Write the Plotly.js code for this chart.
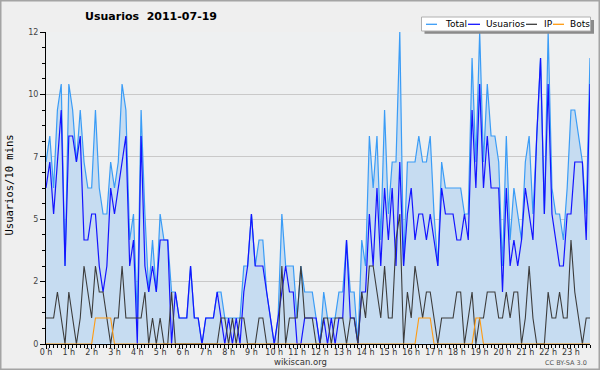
<!DOCTYPE html>
<html><head><meta charset="utf-8">
<script src="https://cdn.plot.ly/plotly-3.0.1.min.js"></script>
<style>html,body{margin:0;padding:0;background:#efefef;}#chart{width:600px;height:370px;}</style>
</head><body><div id="chart"></div>
<script>
// 10-minute slots, 0h00 .. 23h50
const hourTicks  = [0,6,12,18,24,30,36,42,48,54,60,66,72,78,84,90,96,102,108,114,120,126,132,138];
const hourLabels = ["0 h","1 h","2 h","3 h","4 h","5 h","6 h","7 h","8 h","9 h","10 h","11 h","12 h","13 h","14 h","15 h","16 h","17 h","18 h","19 h","20 h","21 h","22 h","23 h"];
const yTickVals  = [0, 2.4, 4.8, 7.2, 9.6, 12];
const yTickText  = ["0","2","5","7","10","12"];
const seriesNames = ["Total","Usuarios","IP","Bots"];

const total = [7,8,6,9,10,3,10,9,7,9,7,6,6,9,6,5,5,7,6,7,10,9,4,5,
  1,9,5,2,4,2,5,4,4,2,2,1,1,1,3,1,1,0,1,1,1,2,2,1,
  1,1,1,1,3,3,5,3,4,4,2,1,0,1,5,3,3,3,1,3,2,2,2,1,
  0,2,1,1,1,2,2,4,2,2,0,4,3,8,6,8,4,9,5,7,7,12,3,7,
  7,7,8,7,7,8,5,3,7,6,6,6,6,6,5,5,11,7,12,7,10,8,8,7,
  3,8,4,6,5,4,7,8,5,8,11,5,12,6,5,5,4,6,9,9,8,7,5,11];
const usuarios = [6,7,5,7,9,3,8,8,7,8,4,4,5,5,3,2,3,6,5,6,7,8,3,4,
  0,8,3,2,3,2,4,4,4,0,2,1,1,1,3,1,1,0,1,1,1,2,1,0,
  1,0,1,0,2,3,5,3,3,3,2,1,0,1,2,3,2,2,0,0,1,1,1,1,
  0,1,0,1,0,1,1,4,1,1,0,2,2,5,3,6,3,6,4,6,3,7,3,5,
  6,4,5,5,4,5,4,3,6,5,5,5,4,4,5,4,9,6,10,6,8,6,6,6,
  2,6,3,4,3,4,6,5,4,8,11,5,10,5,4,3,3,5,5,7,7,7,4,10];
const ip = [1,1,1,2,1,0,2,1,0,1,3,2,1,3,2,2,1,0,1,1,3,1,1,1,
  1,1,2,0,1,0,1,0,0,2,0,0,0,0,0,0,0,0,0,0,0,0,1,1,
  0,1,0,1,1,0,0,0,1,1,0,0,0,0,3,0,1,1,1,3,1,1,1,0,
  0,1,1,0,1,1,1,0,1,1,0,2,1,3,3,2,1,3,1,1,4,5,0,2,
  1,3,2,1,2,2,1,0,1,1,1,1,2,2,0,1,2,0,1,1,2,2,2,1,
  1,2,1,2,2,0,1,3,1,0,0,0,2,1,1,2,1,1,4,2,1,0,1,1];
const bots = [0,0,0,0,0,0,0,0,0,0,0,0,0,1,1,1,1,1,0,0,0,0,0,0,
  0,0,0,0,0,0,0,0,0,0,0,0,0,0,0,0,0,0,0,0,0,0,0,0,
  0,0,0,0,0,0,0,0,0,0,0,0,0,0,0,0,0,0,0,0,0,0,0,0,
  0,0,0,0,0,0,0,0,0,0,0,0,0,0,0,0,0,0,0,0,0,0,0,0,
  0,0,1,1,1,1,0,0,0,0,0,0,0,0,0,0,0,1,1,0,0,0,0,0,
  0,0,0,0,0,0,0,0,0,0,0,0,0,0,0,0,0,0,0,0,0,0,0,0];
const colors = ["#3a9cf6","#1414ff","#3c3c3c","#ff9a10"];

const slots = total.map((_, i) => i);

// helpers: pixel -> paper (plot area 46..590 x 32..344)
const PX = x => (x - 46) / 544;
const PY = y => (344 - y) / 312;

const traces = [
  {x: slots, y: total, name: seriesNames[0], type: 'scatter', mode: 'lines',
   line: {color: colors[0], width: 1.2}, fill: 'tozeroy', fillcolor: '#c6dcf1'},
  {x: slots, y: usuarios, name: seriesNames[1], type: 'scatter', mode: 'lines',
   line: {color: colors[1], width: 1.2}},
  {x: slots, y: ip, name: seriesNames[2], type: 'scatter', mode: 'lines',
   line: {color: colors[2], width: 1.1}},
  {x: slots, y: bots, name: seriesNames[3], type: 'scatter', mode: 'lines',
   line: {color: colors[3], width: 1.1}}
];

// custom legend (line samples + labels)
const legX = [[426,437,442.7],[468,480,484],[526,537,541.7],[553,564,568]];
const legY = 24.3;
const shapes = [
  {type:'rect', xref:'paper', yref:'paper', x0:-46/544, x1:554/544, y0:-26/312, y1:344/312,
   line:{color:'#a4a4a4', width:3}, fillcolor:'rgba(0,0,0,0)', layer:'above'},
  {type:'rect', xref:'paper', yref:'paper', x0:PX(424.5), x1:PX(594), y0:PY(33.8), y1:PY(20),
   line:{width:0}, fillcolor:'#8a8a8a', layer:'above'},
  {type:'rect', xref:'paper', yref:'paper', x0:PX(421.5), x1:PX(590.5), y0:PY(31), y1:PY(17),
   line:{color:'#b0b0b0', width:1}, fillcolor:'#ffffff', layer:'above'}
];
const annotations = [];
seriesNames.forEach((n, k) => {
  shapes.push({type:'line', xref:'paper', yref:'paper', x0:PX(legX[k][0]), x1:PX(legX[k][1]),
    y0:PY(legY), y1:PY(legY), line:{color:colors[k], width:1.3}, layer:'above'});
  annotations.push({text:n, xref:'paper', yref:'paper', x:PX(legX[k][2]), y:PY(legY),
    xanchor:'left', yanchor:'middle', showarrow:false,
    font:{family:'DejaVu Sans', size:9, color:'#000'}});
});
annotations.push({text:'Usuarios/10 mins', xref:'paper', yref:'paper', x:PX(8.5), y:PY(185),
  xanchor:'center', yanchor:'middle', textangle:-90, showarrow:false,
  font:{family:'DejaVu Sans Mono', size:10.5, color:'#000'}});
annotations.push({text:'wikiscan.org', xref:'paper', yref:'paper', x:PX(300), y:PY(362),
  xanchor:'center', yanchor:'middle', showarrow:false,
  font:{family:'DejaVu Sans', size:8.5, color:'#333'}});
annotations.push({text:'CC BY-SA 3.0', xref:'paper', yref:'paper', x:PX(589), y:PY(362.5),
  xanchor:'right', yanchor:'middle', showarrow:false,
  font:{family:'DejaVu Sans', size:6.5, color:'#555'}});

const layout = {
  width: 600, height: 370,
  margin: {l: 46, r: 10, t: 32, b: 26, pad: 0},
  paper_bgcolor: '#efefef', plot_bgcolor: '#eef0f1',
  showlegend: false,
  hovermode: false,
  title: {text: 'Usuarios\u00a0\u00a02011-07-19', xref: 'container', yref: 'container',
    x: 151/600, xanchor: 'center', y: 1 - 16/370, yanchor: 'middle',
    font: {family: 'DejaVu Sans', size: 11, weight: 'bold', color: '#000'}},
  xaxis: {range: [0, 143], fixedrange: true, showgrid: false, zeroline: false,
    showline: true, linecolor: '#000', linewidth: 1,
    tickmode: 'array', tickvals: hourTicks, ticktext: hourLabels,
    ticks: 'outside', ticklen: 3.5, tickwidth: 1, tickcolor: '#000',
    ticklabelstandoff: -3,
    tickfont: {family: 'DejaVu Sans', size: 8, color: '#333'},
    minor: {dtick: 1, tick0: 0, ticklen: 2.5, tickwidth: 1, tickcolor: '#000', ticks: 'outside', showgrid: false}},
  yaxis: {range: [0, 12], fixedrange: true, zeroline: false,
    showgrid: true, gridcolor: '#c9c9c9', gridwidth: 1,
    showline: true, linecolor: '#000', linewidth: 1,
    tickmode: 'array', tickvals: yTickVals, ticktext: yTickText,
    ticks: 'outside', ticklen: 5, tickwidth: 1, tickcolor: '#000',
    tickfont: {family: 'DejaVu Sans', size: 8, color: '#444'},
    minor: {dtick: 0.6, tick0: 0, ticklen: 3, tickwidth: 1, tickcolor: '#000', ticks: 'outside', showgrid: false}},
  shapes: shapes,
  annotations: annotations
};

Plotly.newPlot('chart', traces, layout, {displayModeBar: false, staticPlot: true});
</script>
</body></html>
